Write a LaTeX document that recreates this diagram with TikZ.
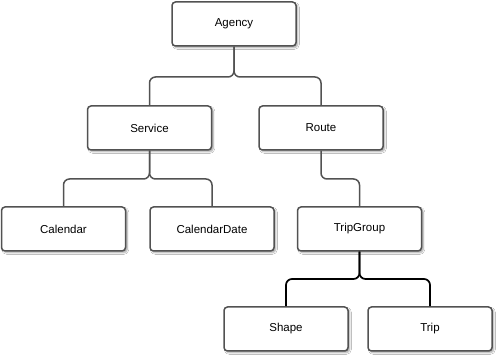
\documentclass[tikz,border=0pt]{standalone}
\usepackage{fontspec}
\setmainfont{Liberation Sans}
\usetikzlibrary{shadows.blur}
\begin{document}
\begin{tikzpicture}[x=1pt,y=-1pt,
  box/.style={draw=black!68, line width=1.5pt, rounded corners=3.5pt, fill=white,
    minimum width=124pt, minimum height=44pt, inner sep=0pt,
    font=\fontsize{11.5}{13}\selectfont,
    blur shadow={shadow xshift=1.8pt, shadow yshift=-1.8pt, shadow blur steps=6, shadow opacity=35, shadow blur radius=1.5pt}},
  link/.style={draw=black!68, line width=1.5pt, rounded corners=6pt},
  darklink/.style={draw=black, line width=1.7pt, rounded corners=6pt}]
  \useasboundingbox[fill=white] (0,0) rectangle (499,358);

  % nodes
  \node[box] (agency)  at (234,24)    {Agency};
  \node[box] (service) at (149.5,128) {Service};
  \node[box] (route)   at (321,128)   {Route};
  \node[box] (cal)     at (63.5,229)  {Calendar};
  \node[box] (caldate) at (212,229)   {CalendarDate};
  \node[box] (tg)      at (359.5,229) {TripGroup};
  \node[box] (shape)   at (286,329)   {Shape};
  \node[box] (trip)    at (430,329)   {Trip};

  % connectors
  \draw[link] (agency.south) -- (agency.south |- 0,77) -- (service.north |- 0,77) -- (service.north);
  \draw[link] (agency.south) -- (agency.south |- 0,77) -- (route.north |- 0,77) -- (route.north);
  \draw[link] (service.south) -- (service.south |- 0,179) -- (cal.north |- 0,179) -- (cal.north);
  \draw[link] (service.south) -- (service.south |- 0,179) -- (caldate.north |- 0,179) -- (caldate.north);
  \draw[link] (route.south) -- (route.south |- 0,179) -- (tg.north |- 0,179) -- (tg.north);
  \draw[darklink] (tg.south) -- (tg.south |- 0,279) -- (shape.north |- 0,279) -- (shape.north);
  \draw[darklink] (tg.south) -- (tg.south |- 0,279) -- (trip.north |- 0,279) -- (trip.north);
\end{tikzpicture}
\end{document}
